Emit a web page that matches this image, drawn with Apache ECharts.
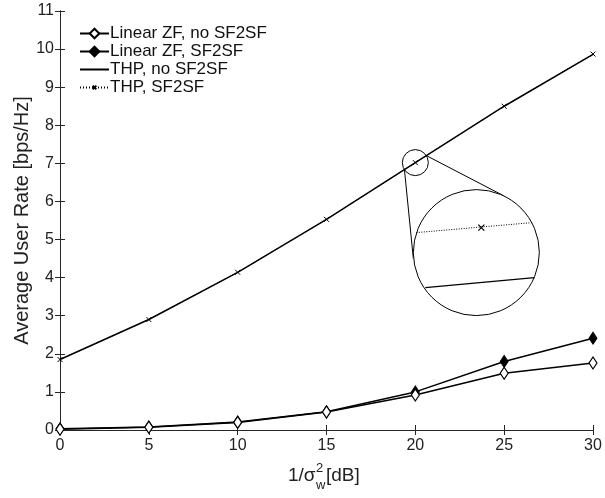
<!DOCTYPE html>
<html>
<head>
<meta charset="utf-8">
<script src="https://cdn.jsdelivr.net/npm/echarts@6/dist/echarts.min.js"></script>
<style>
html, body { margin: 0; padding: 0; background: #fff; }
#chart { width: 605px; height: 498px; }
</style>
</head>
<body>
<div id="chart"></div>
<script>
var snr = [0, 5, 10, 15, 20, 25, 30];
var zfNoSf = [0.02, 0.07, 0.2, 0.47, 0.92, 1.49, 1.76];
var zfSf = [0.03, 0.08, 0.21, 0.48, 1.0, 1.8, 2.41];
var thpNoSf = [1.85, 2.9, 4.14, 5.53, 7.02, 8.5, 9.86];
var thpSf = [1.85, 2.9, 4.14, 5.53, 7.02, 8.5, 9.87];
var xTicks = [0, 5, 10, 15, 20, 25, 30];
var yTicks = [0, 1, 2, 3, 4, 5, 6, 7, 8, 9, 10, 11];

var FONT = 'Liberation Sans';
var AX = '#262626';
// small x marker, padded so it stays small in the legend too
var crossPath = 'path://M-8,-8M18,18M0,0L10,10M10,0L0,10';

function pairs(ys) {
	return snr.map(function (x, i) { return [x, ys[i]]; });
}

var chart = echarts.init(document.getElementById('chart'));

var axisCommon = {
	type: 'value',
	splitLine: { show: false },
	axisLine: { lineStyle: { color: AX, width: 1 } },
	axisTick: { inside: true, length: 5, lineStyle: { color: AX } }
};

var option = {
	animation: false,
	backgroundColor: '#fff',
	textStyle: { fontFamily: FONT },
	grid: { left: 60, right: 12, top: 11, bottom: 68, outerBoundsMode: 'none', containLabel: false },
	xAxis: [
		Object.assign({}, axisCommon, {
			min: xTicks[0], max: xTicks[xTicks.length - 1], interval: 5,
			axisLabel: { fontSize: 16, color: '#222', margin: 8, fontFamily: FONT }
		}),
		Object.assign({}, axisCommon, {
			position: 'top',
			min: xTicks[0], max: xTicks[xTicks.length - 1], interval: 5,
			axisLabel: { show: false }
		})
	],
	yAxis: [
		Object.assign({}, axisCommon, {
			min: yTicks[0], max: yTicks[yTicks.length - 1], interval: 1,
			name: 'Average User Rate [bps/Hz]',
			nameLocation: 'middle',
			nameGap: 28,
			nameMoveOverlap: false,
			nameTextStyle: { fontSize: 20, color: '#222', fontFamily: FONT },
			axisLabel: { fontSize: 16, color: '#222', margin: 6, fontFamily: FONT }
		}),
		Object.assign({}, axisCommon, {
			position: 'right',
			min: yTicks[0], max: yTicks[yTicks.length - 1], interval: 1,
			axisLabel: { show: false }
		})
	],
	legend: {
		orient: 'vertical',
		left: 74,
		top: 20,
		itemWidth: 29,
		itemHeight: 12,
		itemGap: 1,
		textStyle: { fontSize: 17, color: '#111', fontFamily: FONT, padding: [0, 0, 0, -4] },
		data: [
			'Linear ZF, no SF2SF',
			'Linear ZF, SF2SF',
			{ name: 'THP, no SF2SF', itemStyle: { opacity: 0 } },
			'THP, SF2SF'
		]
	},
	series: [{
		name: 'Linear ZF, no SF2SF',
		type: 'line',
		data: pairs(zfNoSf),
		symbol: 'diamond',
		symbolSize: [8, 12],
		lineStyle: { color: '#000', width: 1.5 },
		itemStyle: { color: '#fff', borderColor: '#000', borderWidth: 1.2 },
		z: 3
	}, {
		name: 'Linear ZF, SF2SF',
		type: 'line',
		data: pairs(zfSf),
		symbol: 'diamond',
		symbolSize: [8, 12],
		lineStyle: { color: '#000', width: 1.5 },
		itemStyle: { color: '#000', borderColor: '#000', borderWidth: 1 },
		z: 2
	}, {
		name: 'THP, no SF2SF',
		type: 'line',
		data: pairs(thpNoSf),
		symbol: 'none',
		lineStyle: { color: '#000', width: 1.5 },
		itemStyle: { color: '#000' }
	}, {
		name: 'THP, SF2SF',
		type: 'line',
		data: pairs(thpSf),
		symbol: crossPath,
		symbolSize: 13,
		lineStyle: { color: '#000', width: 1, type: [1, 2] },
		itemStyle: { color: 'none', borderColor: '#000', borderWidth: 1 }
	}]
};

chart.setOption(option);

// magnifier inset around the THP point at 20 dB
var c = chart.convertToPixel({ xAxisIndex: 0, yAxisIndex: 0 }, [snr[4], thpSf[4]]);
var sr = 13;
var big = [c[0] + 61, c[1] + 90];
var br = 63;
var xBase = chart.convertToPixel({ xAxisIndex: 0, yAxisIndex: 0 }, [15, 0]);
var nameY = xBase[1] + 46;
var nameX = 326;

chart.setOption({
	graphic: [
		{ type: 'circle', shape: { cx: c[0], cy: c[1], r: sr }, style: { fill: 'none', stroke: '#000', lineWidth: 1 }, z: 10 },
		{ type: 'line', shape: { x1: c[0] - 11, y1: c[1] + 6, x2: big[0] - 63, y2: big[1] + 6 }, style: { stroke: '#000', lineWidth: 1 }, z: 10 },
		{ type: 'line', shape: { x1: c[0] + 11, y1: c[1] - 7, x2: big[0] + 27, y2: big[1] - 57 }, style: { stroke: '#000', lineWidth: 1 }, z: 10 },
		{ type: 'circle', shape: { cx: big[0], cy: big[1], r: br }, style: { fill: '#fff', stroke: '#000', lineWidth: 1 }, z: 11 },
		{ type: 'line', shape: { x1: big[0] - 60, y1: big[1] - 20, x2: big[0] + 56, y2: big[1] - 30 }, style: { stroke: '#000', lineWidth: 1, lineDash: [1, 1.5] }, z: 12 },
		{ type: 'line', shape: { x1: big[0] + 2, y1: big[1] - 28, x2: big[0] + 8, y2: big[1] - 22 }, style: { stroke: '#000', lineWidth: 1.2 }, z: 12 },
		{ type: 'line', shape: { x1: big[0] + 8, y1: big[1] - 28, x2: big[0] + 2, y2: big[1] - 22 }, style: { stroke: '#000', lineWidth: 1.2 }, z: 12 },
		{ type: 'line', shape: { x1: big[0] - 51, y1: big[1] + 35, x2: big[0] + 58, y2: big[1] + 25 }, style: { stroke: '#000', lineWidth: 1.2 }, z: 12 },
		// x axis title 1/σ²_w [dB]
		{ type: 'text', style: { text: '1/σ', x: nameX - 38, y: nameY, fontSize: 19, fontFamily: FONT, fill: '#222', verticalAlign: 'middle' } },
		{ type: 'text', style: { text: '2', x: nameX - 10, y: nameY - 8, fontSize: 13, fontFamily: FONT, fill: '#222', verticalAlign: 'middle' } },
		{ type: 'text', style: { text: 'w', x: nameX - 10, y: nameY + 9, fontSize: 13, fontFamily: FONT, fill: '#222', verticalAlign: 'middle' } },
		{ type: 'text', style: { text: '[dB]', x: nameX, y: nameY, fontSize: 19, fontFamily: FONT, fill: '#222', verticalAlign: 'middle' } }
	]
});
</script>
</body>
</html>
